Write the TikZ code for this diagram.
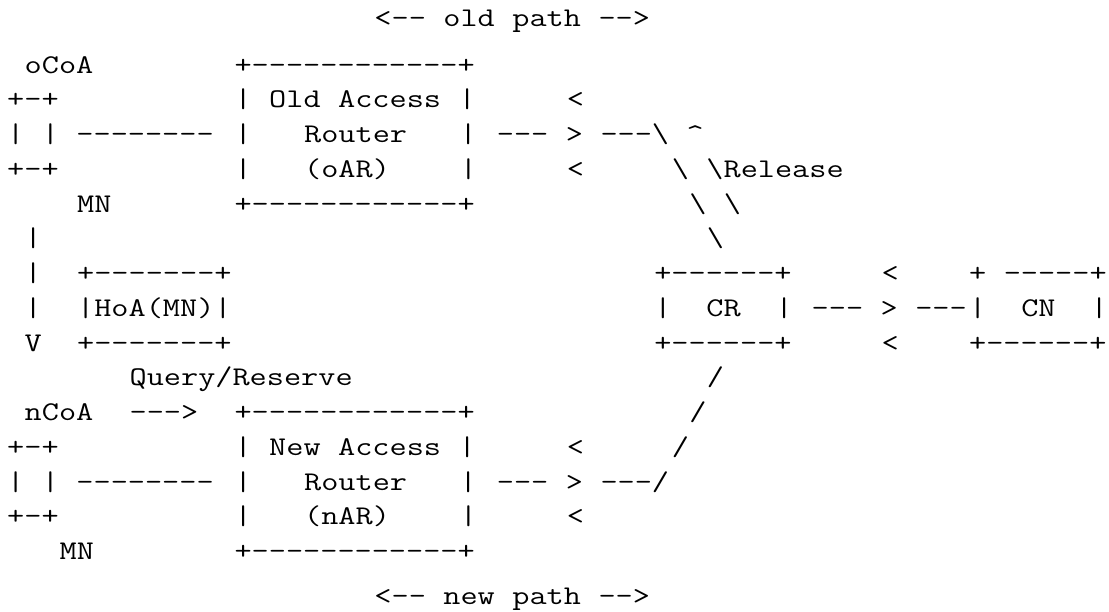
\documentclass[tikz,border=0pt]{standalone}
\usepackage{fontspec}
\setmonofont{Latin Modern Mono}[FakeStretch=1.2339]
\usepackage{tikz}
\usetikzlibrary{positioning}

% one character cell of the ascii grid
\newlength\cw
\setlength\cw{17.49pt}
\newcommand\cols[1]{\hspace*{#1\cw}}

\begin{document}
\begin{tikzpicture}[x=17.49pt, y=-34.75pt,
    ascii/.style={anchor=base west, inner sep=0pt, outer sep=0pt,
      xshift=7.2pt, yshift=-3.6pt,
      font=\ttfamily\fontsize{27pt}{32pt}\selectfont}]
  \useasboundingbox (0pt,0pt) rectangle (1109pt,-612pt);

  % Paths
  \node[ascii] (oldpath) at (21,0.65) {<--\cols{1}old\cols{1}path\cols{1}-->};
  \node[ascii] (newpath) at (21,17.3) {<--\cols{1}new\cols{1}path\cols{1}-->};

  % Old mobile node
  \node[ascii] (ocoa) at (1,2) {oCoA};
  \node[ascii] (omntop) at (0,3) {+-+};
  \node[ascii] (omnmid) at (0,4) {|\cols{1}|\cols{1}--------};
  \node[ascii] (omnbot) at (0,5) {+-+};
  \node[ascii] (omn) at (4,6) {MN};

  % Old access router
  \node[ascii] (oartop) at (13,2) {+------------+};
  \node[ascii] (oara) at (13,3) {|\cols{1}Old\cols{1}Access\cols{1}|};
  \node[ascii] (oarb) at (13,4) {|\cols{3}Router\cols{3}|};
  \node[ascii] (oarc) at (13,5) {|\cols{3}(oAR)\cols{4}|};
  \node[ascii] (oarbot) at (13,6) {+------------+};
  \node[ascii] (olta) at (32,3) {<};
  \node[ascii] (olink) at (28,4) {---\cols{1}>\cols{1}---\textbackslash\cols{1}\textasciicircum};
  \node[ascii] (oltb) at (32,5) {<};
  \node[ascii] (rela) at (38,5) {\textbackslash\cols{1}\textbackslash Release};
  \node[ascii] (relb) at (39,6) {\textbackslash\cols{1}\textbackslash};
  \node[ascii] (relc) at (40,7) {\textbackslash};

  % Handover arrow and HoA
  \node[ascii] (mva) at (1,7) {|};
  \node[ascii] (mvb) at (1,8) {|};
  \node[ascii] (mvc) at (1,9) {|};
  \node[ascii] (mvd) at (1,10) {V};
  \node[ascii] (hoatop) at (4,8) {+-------+};
  \node[ascii] (hoa) at (4,9) {|HoA(MN)|};
  \node[ascii] (hoabot) at (4,10) {+-------+};
  \node[ascii] (query) at (7,11) {Query/Reserve};

  % Correspondent router and node
  \node[ascii] (crtop) at (37,8) {+------+};
  \node[ascii] (cr) at (37,9) {|\cols{2}CR\cols{2}|};
  \node[ascii] (crbot) at (37,10) {+------+};
  \node[ascii] (clta) at (50,8) {<};
  \node[ascii] (clink) at (46,9) {---\cols{1}>\cols{1}---};
  \node[ascii] (cltb) at (50,10) {<};
  \node[ascii] (cntop) at (55,8) {+\cols{1}-----+};
  \node[ascii] (cn) at (55,9) {|\cols{2}CN\cols{2}|};
  \node[ascii] (cnbot) at (55,10) {+------+};

  % New mobile node
  \node[ascii] (ncoa) at (1,12) {nCoA};
  \node[ascii] (narrow) at (7,12) {--->};
  \node[ascii] (nmntop) at (0,13) {+-+};
  \node[ascii] (nmnmid) at (0,14) {|\cols{1}|\cols{1}--------};
  \node[ascii] (nmnbot) at (0,15) {+-+};
  \node[ascii] (nmn) at (3,16) {MN};

  % New access router
  \node[ascii] (nartop) at (13,12) {+------------+};
  \node[ascii] (nara) at (13,13) {|\cols{1}New\cols{1}Access\cols{1}|};
  \node[ascii] (narb) at (13,14) {|\cols{3}Router\cols{3}|};
  \node[ascii] (narc) at (13,15) {|\cols{3}(nAR)\cols{4}|};
  \node[ascii] (narbot) at (13,16) {+------------+};
  \node[ascii] (nlta) at (32,13) {<};
  \node[ascii] (nlink) at (28,14) {---\cols{1}>\cols{1}---/};
  \node[ascii] (nltb) at (32,15) {<};
  \node[ascii] (nsla) at (40,11) {/};
  \node[ascii] (nslb) at (39,12) {/};
  \node[ascii] (nslc) at (38,13) {/};

\end{tikzpicture}
\end{document}
